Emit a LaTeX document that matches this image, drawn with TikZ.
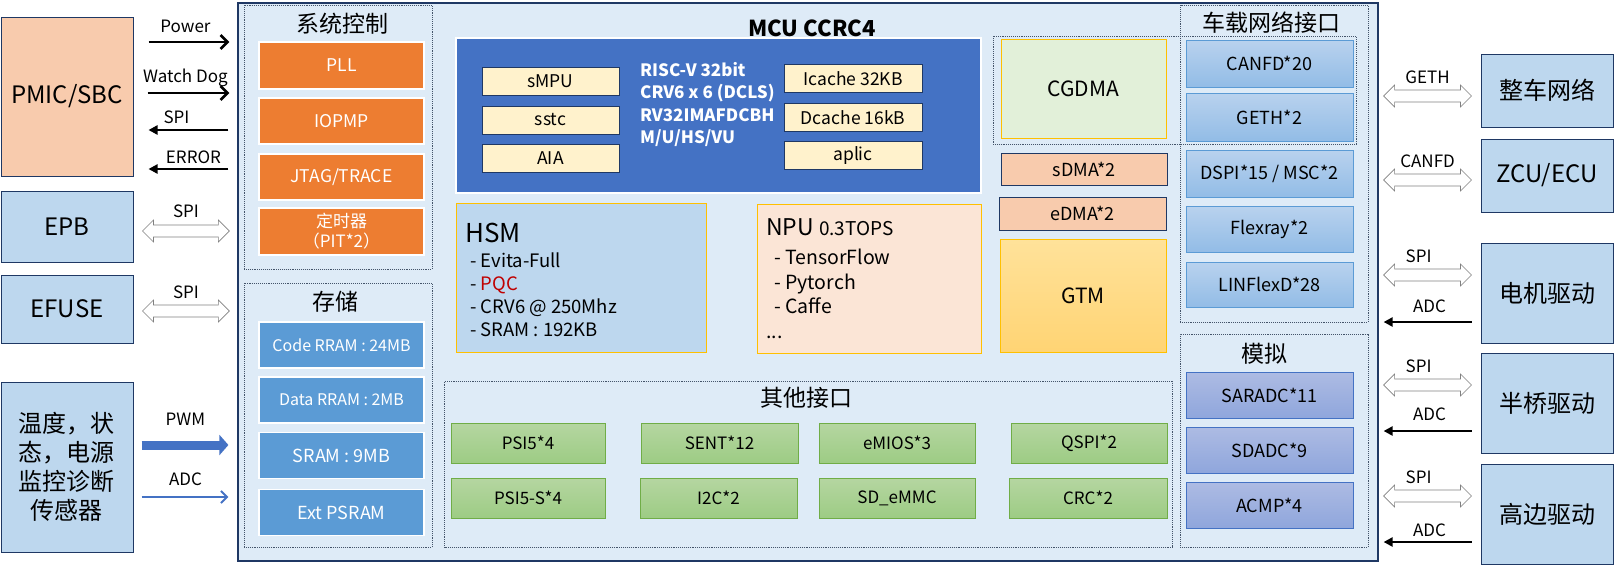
\documentclass[tikz,border=0pt]{standalone}
\usepackage{fontspec}
\setmainfont{Noto Sans CJK SC}
\usetikzlibrary{arrows.meta,positioning,calc}

\definecolor{navy}{HTML}{1F3864}
\definecolor{chipbg}{HTML}{DEEBF7}
\definecolor{orng}{HTML}{ED7D31}
\definecolor{membl}{HTML}{5B9BD5}
\definecolor{cpubl}{HTML}{4472C4}
\definecolor{cream}{HTML}{FFF2CC}
\definecolor{skybl}{HTML}{BDD7EE}
\definecolor{peach}{HTML}{F8CBAD}
\definecolor{apricot}{HTML}{FBE5D6}
\definecolor{gold}{HTML}{FFC000}
\definecolor{mint}{HTML}{E2F0D9}
\definecolor{pqcred}{HTML}{C00000}
\definecolor{grpline}{HTML}{44546A}
\definecolor{nettop}{HTML}{B9D2EE}
\definecolor{netbot}{HTML}{92BCE6}
\definecolor{anatop}{HTML}{ADBBE3}
\definecolor{anabot}{HTML}{8FA6DC}
\definecolor{iotop}{HTML}{B5D6A1}
\definecolor{iobot}{HTML}{9DCC84}
\definecolor{ioline}{HTML}{70AD47}
\definecolor{gtmtop}{HTML}{FFE29A}
\definecolor{gtmbot}{HTML}{FFD474}

\newcommand{\fsz}[2]{\fontsize{#1}{#2}\selectfont}

\begin{document}
\begin{tikzpicture}[x=1pt, y=-1pt,
    ext/.style={draw=navy, line width=1pt, fill=skybl, minimum width=132, align=center, font=\fsz{24}{29}},
    grp/.style={draw=grpline, densely dotted, line width=0.9pt, inner sep=0pt},
    ttl/.style={font=\fsz{23}{27}, inner sep=0pt},
    sysbox/.style={draw=white, line width=1.5pt, fill=orng, text=white, minimum width=165, align=center, font=\fsz{17.5}{21}},
    membox/.style={draw=white, line width=1.5pt, fill=membl, text=white, minimum width=165, minimum height=46},
    core/.style={draw=navy, line width=0.7pt, fill=cream, minimum width=137, minimum height=28, font=\fsz{17.5}{20}},
    dma/.style={draw=navy, line width=0.9pt, fill=peach, minimum width=166, font=\fsz{18}{21}},
    netbox/.style={draw=membl, line width=0.9pt, top color=nettop, bottom color=netbot, minimum width=167, minimum height=47, font=\fsz{18}{21}},
    anabox/.style={draw=cpubl, line width=0.9pt, top color=anatop, bottom color=anabot, minimum width=167, minimum height=46, font=\fsz{18}{21}},
    iobox/.style={draw=ioline, line width=0.9pt, top color=iotop, bottom color=iobot, minimum height=40, font=\fsz{17}{20}},
    arr/.style={line width=2.4pt, -{Triangle[length=9pt,width=9pt]}},
    barb/.style={line width=2.6pt, -{Straight Barb[length=7pt,width=14pt]}},
    pwm/.style={line width=9pt, draw=cpubl, -{Triangle[length=9pt,width=20pt]}},
    adcl/.style={line width=2pt, draw=cpubl, -{Straight Barb[length=6pt,width=12pt]}},
    lbl/.style={font=\fsz{17}{20}, inner sep=0pt, pos=0.5, anchor=base, yshift=#1},
    lbl/.default=10pt,
    dblarr/.style 2 args={draw=black!50, fill=white, line width=0.6pt,
      to path={let \p1=(\tikztostart), \p2=(\tikztotarget) in
        (\x1+#1,\y1) -- (\x1+#1+11pt,\y1+11pt) -- (\x1+#1+11pt,\y1+6pt)
        -- (\x2-#2-11pt,\y1+6pt) \tikztonodes
        -- (\x2-#2-11pt,\y1+11pt) -- (\x2-#2,\y1) -- (\x2-#2-11pt,\y1-11pt)
        -- (\x2-#2-11pt,\y1-6pt) -- (\x1+#1+11pt,\y1-6pt) -- (\x1+#1+11pt,\y1-11pt) -- cycle}}
]
\useasboundingbox (0,0) rectangle (1614,565);

% outside parts
\node[ext, fill=peach, minimum height=159] (pmic) at (67,96.5) {PMIC/SBC};
\node[ext, minimum height=71] (epb) at (67,226.5) {EPB};
\node[ext, minimum height=68] (efuse) at (67,309) {EFUSE};
\node[ext, minimum height=170] (sensor) at (67,467) {温度，状\\态，电源\\监控诊断\\传感器};
\node[ext, minimum height=73] (vehnet) at (1547,90.5) {整车网络};
\node[ext, minimum height=73] (zcu) at (1547,175.5) {ZCU/ECU};
\node[ext, minimum height=100] (motor) at (1547,293) {电机驱动};
\node[ext, minimum height=100] (hbridge) at (1547,403) {半桥驱动};
\node[ext, minimum height=100] (hside) at (1547,514) {高边驱动};

% chip
\node[draw=navy, line width=1.2pt, fill=chipbg, minimum width=1140, minimum height=558, inner sep=0pt] (mcu) at (808,282) {};
\node[font=\bfseries\fsz{22}{26}, inner sep=0pt] (mcuttl) at (812,28) {MCU CCRC4};

\node[grp, minimum width=188, minimum height=264] (sysgrp) at (338,137) {};
\node[ttl] (systtl) at (342,24) {系统控制};
\node[grp, minimum width=188, minimum height=264] (memgrp) at (338,415) {};
\node[ttl] (memttl) at (335,302) {存储};
\node[grp, minimum width=188, minimum height=317] (netgrp) at (1274,163.5) {};
\node[ttl] (netttl) at (1271,23) {车载网络接口};
\node[grp, minimum width=363, minimum height=108] (dmagrp) at (1174.5,90) {};
\node[grp, minimum width=188, minimum height=213] (anagrp) at (1274,440.5) {};
\node[ttl] (anattl) at (1264,354) {模拟};
\node[grp, minimum width=728, minimum height=166] (iogrp) at (808.5,464) {};
\node[ttl] (iottl) at (806,398) {其他接口};

% system control
\node[sysbox, minimum height=47] (pll) at (341.5,65.5) {PLL};
\node[sysbox, minimum height=46] (iopmp) at (341.5,121) {IOPMP};
\node[sysbox, minimum height=46] (jtag) at (341.5,177) {JTAG/TRACE};
\node[sysbox, minimum height=47, font=\fsz{17}{20}] (timer) at (341.5,231.5) {定时器\\（PIT*2）};

% memory
\node[membox, font=\fsz{16}{19}] (coderram) at (341.5,345) {Code RRAM : 24MB};
\node[membox, font=\fsz{16}{19}] (datarram) at (341.5,400) {Data RRAM : 2MB};
\node[membox, font=\fsz{18}{21}] (sram) at (341.5,455.5) {SRAM : 9MB};
\node[membox, font=\fsz{18}{21}] (psram) at (341.5,512.5) {Ext PSRAM};

% cpu cluster
\node[draw=white, line width=2pt, fill=cpubl, minimum width=525, minimum height=155] (cpu) at (718.5,115.5) {};
\node[core] (smpu) at (550.5,81) {sMPU};
\node[core] (sstc) at (550.5,120) {sstc};
\node[core] (aia) at (550.5,158) {AIA};
\node[core, minimum width=138] (icache) at (853,78.5) {Icache 32KB};
\node[core, minimum width=138] (dcache) at (853,117.5) {Dcache 16kB};
\node[core, minimum width=138] (aplic) at (853,155.5) {aplic};
\node[anchor=north west, inner sep=0pt, align=left, text=white, font=\bfseries\fsz{17}{22.5}] (isa) at (640,62) {RISC-V 32bit\\CRV6 x 6 (DCLS)\\RV32IMAFDCBH\\M/U/HS/VU};

% hsm and npu
\node[draw=gold, line width=0.9pt, fill=skybl, minimum width=250, minimum height=149] (hsm) at (581,277.5) {};
\node[anchor=base west, inner sep=0pt, font=\fsz{26}{30}] (hsmttl) at (465,242) {HSM};
\node[anchor=north west, inner sep=0pt, align=left, font=\fsz{18.5}{22.7}] (hsmlist) at (470,253) {- Evita-Full\\- \textcolor{pqcred}{PQC}\\- CRV6 @ 250Mhz\\- SRAM : 192KB};
\node[draw=gold, line width=0.9pt, fill=apricot, minimum width=224, minimum height=149] (npu) at (869,278.5) {};
\node[anchor=base west, inner sep=0pt, font=\fsz{23}{27}] (nputtl) at (766,235) {NPU {\fsz{19}{22}0.3TOPS}};
\node[anchor=north west, inner sep=0pt, align=left, font=\fsz{19.5}{24.5}] (npulist) at (766,249) {\hspace*{8pt}- TensorFlow\\\hspace*{8pt}- Pytorch\\\hspace*{8pt}- Caffe\\...};

% dma and timers
\node[draw=gold, line width=0.9pt, fill=mint, minimum width=165, minimum height=99, font=\fsz{21}{25}] (cgdma) at (1083.5,88.5) {CGDMA};
\node[dma, minimum height=32] (sdma) at (1084,169) {sDMA*2};
\node[dma, minimum height=33, minimum width=167] (edma) at (1082.5,213.5) {eDMA*2};
\node[draw=gold, line width=0.9pt, top color=gtmtop, bottom color=gtmbot, minimum width=166, minimum height=113, font=\fsz{21}{25}] (gtm) at (1083,295.5) {GTM};

% vehicle network
\node[netbox] (canfd) at (1269.5,63.5) {CANFD*20};
\node[netbox, minimum height=48] (geth) at (1269.5,117) {GETH*2};
\node[netbox] (dspi) at (1269.5,173.5) {DSPI*15 / MSC*2};
\node[netbox, minimum height=46] (flexray) at (1269.5,229) {Flexray*2};
\node[netbox, minimum height=45] (linflex) at (1269.5,284.5) {LINFlexD*28};

% analog
\node[anabox] (saradc) at (1269.5,395.5) {SARADC*11};
\node[anabox] (sdadc) at (1269.5,450) {SDADC*9};
\node[anabox] (acmp) at (1269.5,505) {ACMP*4};

% other interfaces
\node[iobox, minimum width=154] (psi) at (528,443) {PSI5*4};
\node[iobox, minimum width=157] (sent) at (719.5,443) {SENT*12};
\node[iobox, minimum width=156] (emios) at (897,443) {eMIOS*3};
\node[iobox, minimum width=156] (qspi) at (1089,443) {QSPI*2};
\node[iobox, minimum width=154] (psis) at (528,498) {PSI5-S*4};
\node[iobox, minimum width=157] (itwoc) at (718.5,498) {I2C*2};
\node[iobox, minimum width=156] (sdemmc) at (897,498) {SD\_eMMC};
\node[iobox, minimum width=158] (crc) at (1088,498) {CRC*2};

% left links
\draw[barb, shorten <=15pt, shorten >=8pt] (pmic.east |- 0,42) -- node[lbl]{Power} (mcu.west |- 0,42);
\draw[barb, shorten <=14pt, shorten >=8pt] (pmic.east |- 0,93) -- node[lbl=11pt]{Watch Dog} (mcu.west |- 0,93);
\draw[arr, shorten <=9pt, shorten >=15pt] (mcu.west |- 0,130) -- node[lbl=7pt, xshift=-9pt]{SPI} (pmic.east |- 0,130);
\draw[arr, shorten <=9pt, shorten >=15pt] (mcu.west |- 0,169) -- node[lbl=6pt, xshift=8pt]{ERROR} (pmic.east |- 0,169);
\draw[dblarr={9pt}{8pt}] (epb.east |- 0,231) to node[lbl=8pt]{SPI} (mcu.west |- 0,231);
\draw[dblarr={9pt}{8pt}] (efuse.east |- 0,311) to node[lbl=7pt]{SPI} (mcu.west |- 0,311);
\draw[pwm, shorten <=8pt, shorten >=9pt] (sensor.east |- 0,445) -- node[lbl=20pt]{PWM} (mcu.west |- 0,445);
\draw[adcl, shorten <=8pt, shorten >=9pt] (sensor.east |- 0,497) -- node[lbl=12pt]{ADC} (mcu.west |- 0,497);

% right links
\draw[dblarr={5pt}{9pt}] (mcu.east |- 0,96) to node[lbl=7pt]{GETH} (vehnet.west |- 0,96);
\draw[dblarr={5pt}{9pt}] (mcu.east |- 0,180) to node[lbl=7pt]{CANFD} (zcu.west |- 0,180);
\draw[dblarr={5pt}{9pt}] (mcu.east |- 0,275) to node[lbl=7pt, xshift=-9pt]{SPI} (motor.west |- 0,275);
\draw[arr, shorten <=9pt, shorten >=5pt] (motor.west |- 0,322) -- node[lbl=10pt]{ADC} (mcu.east |- 0,322);
\draw[dblarr={5pt}{9pt}] (mcu.east |- 0,385) to node[lbl=7pt, xshift=-9pt]{SPI} (hbridge.west |- 0,385);
\draw[arr, shorten <=9pt, shorten >=5pt] (hbridge.west |- 0,431) -- node[lbl=11pt]{ADC} (mcu.east |- 0,431);
\draw[dblarr={5pt}{9pt}] (mcu.east |- 0,496) to node[lbl=7pt, xshift=-9pt]{SPI} (hside.west |- 0,496);
\draw[arr, shorten <=9pt, shorten >=5pt] (hside.west |- 0,542) -- node[lbl=6pt]{ADC} (mcu.east |- 0,542);
\end{tikzpicture}
\end{document}
